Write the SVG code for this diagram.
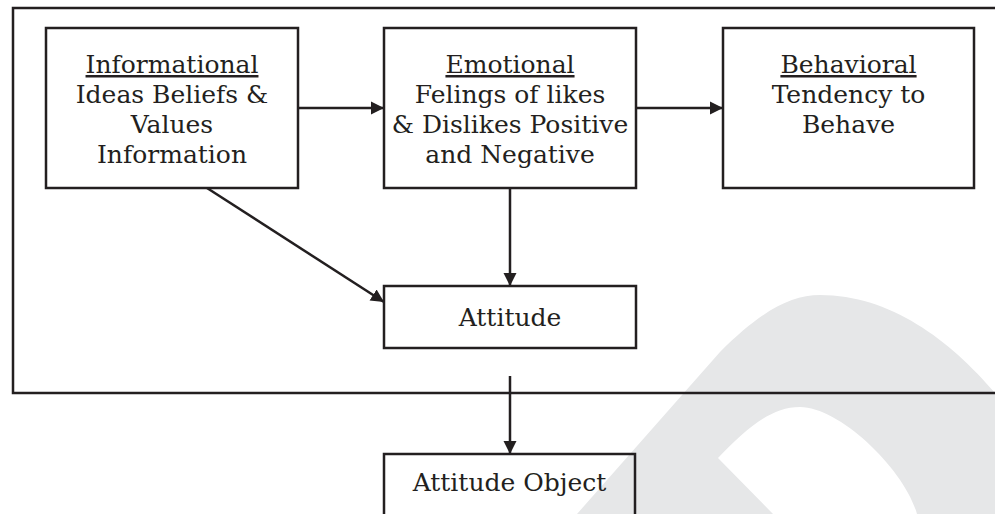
<svg xmlns="http://www.w3.org/2000/svg" width="995" height="514" viewBox="0 0 995 514">
<style>
.box{fill:none;stroke:#231f20;stroke-width:2.5}
.t{font-family:"DejaVu Serif",serif;font-size:25px;fill:#231f20;text-anchor:middle}
.u{text-decoration:underline}
.c{stroke:#231f20;stroke-width:2.5;fill:none}
</style>
<defs>
<marker id="ah" markerUnits="userSpaceOnUse" markerWidth="14" markerHeight="14" refX="13" refY="7" orient="auto">
<path d="M0,0.5 L13,7 L0,13.5 z" fill="#231f20"/>
</marker>
</defs>
<rect width="995" height="514" fill="#fff"/>
<path id="watermark" d="M577,514 L720,352 C760,312 790,295 820,295 C890,295 950,340 995,393 L995,514 L917,514 C905,470 840,407 800,407 C770,407 745,430 718,458 L773,514 Z" fill="#e6e7e8"/>
<path id="frame" d="M995,8 H13 V393 H995" fill="none" stroke="#231f20" stroke-width="2.5"/>
<g id="connectors">
<line class="c" x1="298" y1="108" x2="384" y2="108" marker-end="url(#ah)"/>
<line class="c" x1="636" y1="108" x2="723" y2="108" marker-end="url(#ah)"/>
<line class="c" x1="510" y1="188" x2="510" y2="286" marker-end="url(#ah)"/>
<line class="c" x1="207" y1="188" x2="384" y2="302" marker-end="url(#ah)"/>
<line class="c" x1="510" y1="376" x2="510" y2="454" marker-end="url(#ah)"/>
</g>
<g id="informational">
<rect class="box" x="46" y="28" width="252" height="160"/>
<text class="t u" x="172" y="73">Informational</text>
<text class="t" x="172" y="103">Ideas Beliefs &amp;</text>
<text class="t" x="172" y="133">Values</text>
<text class="t" x="172" y="163">Information</text>
</g>
<g id="emotional">
<rect class="box" x="384" y="28" width="252" height="160"/>
<text class="t u" x="510" y="73">Emotional</text>
<text class="t" x="510" y="103">Felings of likes</text>
<text class="t" x="510" y="133">&amp; Dislikes Positive</text>
<text class="t" x="510" y="163">and Negative</text>
</g>
<g id="behavioral">
<rect class="box" x="723" y="28" width="251" height="160"/>
<text class="t u" x="848.5" y="73">Behavioral</text>
<text class="t" x="848.5" y="103">Tendency to</text>
<text class="t" x="848.5" y="133">Behave</text>
</g>
<g id="attitude">
<rect class="box" x="384" y="286" width="252" height="62"/>
<text class="t" x="510" y="326">Attitude</text>
</g>
<g id="attitude-object">
<rect class="box" x="384" y="454" width="251" height="70"/>
<text class="t" x="509.5" y="491">Attitude Object</text>
</g>
</svg>
